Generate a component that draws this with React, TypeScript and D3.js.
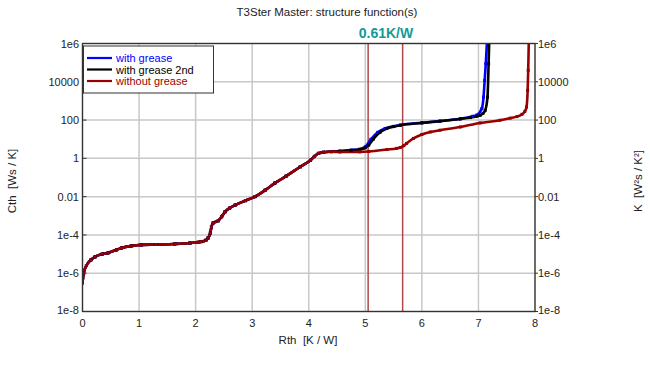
import React from "react";
import * as d3 from "d3";

const yTickValues = [1e-8, 1e-6, 1e-4, 0.01, 1, 100, 10000, 1e6];
const yTickLabels = ["1e-8", "1e-6", "1e-4", "0.01", "1", "100", "10000", "1e6"];
const xTickValues = [0, 1, 2, 3, 4, 5, 6, 7, 8];
const markerRth = [5.05, 5.66];
const markerLabel = "0.61K/W";

// shared initial part (log10 Cth)
const sharedRth = [0, 0.02, 0.07, 0.15, 0.22, 0.35, 0.45, 0.6, 0.69, 0.87, 1.04, 1.3, 1.63, 1.9, 2.1, 2.18, 2.22, 2.26, 2.28, 2.31, 2.4, 2.46, 2.52, 2.6, 2.7, 2.88, 3.05, 3.23, 3.4, 3.6, 3.85, 4.03, 4.1, 4.17, 4.26, 4.4];
const sharedLogC = [-6.5, -6.0, -5.6, -5.3, -5.15, -5.0, -4.94, -4.78, -4.68, -4.57, -4.52, -4.5, -4.47, -4.42, -4.35, -4.28, -4.16, -3.9, -3.57, -3.375, -3.26, -3.05, -2.79, -2.6, -2.44, -2.21, -2.0, -1.66, -1.29, -0.93, -0.44, -0.1, 0.1, 0.26, 0.32, 0.35];

const greaseRth = [4.55, 4.75, 4.9, 5.0, 5.1, 5.22, 5.35, 5.5, 5.62, 6.0, 6.32, 6.68, 6.9, 6.97, 7.06, 7.09, 7.11, 7.13, 7.15];
const greaseLogC = [0.38, 0.43, 0.48, 0.6, 1.0, 1.36, 1.56, 1.67, 1.74, 1.86, 1.95, 2.07, 2.2, 2.26, 2.6, 3.2, 4.07, 4.94, 6.05];

const grease2Rth = [4.55, 4.75, 4.9, 5.0, 5.06, 5.14, 5.26, 5.38, 5.5, 5.62, 6.0, 6.32, 6.68, 6.86, 6.97, 7.03, 7.08, 7.12, 7.16, 7.18, 7.19];
const grease2LogC = [0.37, 0.42, 0.46, 0.55, 0.69, 1.0, 1.36, 1.56, 1.66, 1.73, 1.85, 1.94, 2.06, 2.13, 2.2, 2.25, 2.35, 2.51, 3.2, 4.94, 6.05];

const noGreaseRth = [4.55, 4.9, 5.06, 5.38, 5.55, 5.62, 5.68, 5.73, 5.85, 6.0, 6.15, 6.32, 6.68, 7.03, 7.38, 7.56, 7.68, 7.77, 7.82, 7.85, 7.87, 7.88, 7.89];
const noGreaseLogC = [0.33, 0.34, 0.36, 0.46, 0.52, 0.57, 0.66, 0.78, 1.04, 1.25, 1.38, 1.47, 1.64, 1.85, 1.99, 2.1, 2.18, 2.3, 2.45, 2.68, 3.55, 4.6, 6.05];

const seriesNames = ["with grease", "with grease 2nd", "without grease"];
const seriesColors = ["#0000ff", "#000000", "#9a0000"];

const W = 650, H = 366;
const X0 = 82.5, X1 = 535, Y0 = 43.5, Y1 = 311.5;
const FONT = "'Liberation Sans', Arial, sans-serif";

export default function App() {
  const x = d3.scaleLinear().domain([0, 8]).range([X0, X1]);
  const y = d3.scaleLog().domain([1e-8, 1e6]).range([Y1, Y0]);

  const build = (rth: number[], logc: number[]) => {
    const pts: [number, number][] = [];
    sharedRth.forEach((r, i) => pts.push([r, Math.pow(10, sharedLogC[i])]));
    rth.forEach((r, i) => pts.push([r, Math.pow(10, logc[i])]));
    return pts;
  };
  const series = [build(greaseRth, greaseLogC), build(grease2Rth, grease2LogC), build(noGreaseRth, noGreaseLogC)];
  const line = d3
    .line<[number, number]>()
    .x((d) => x(d[0]))
    .y((d) => y(d[1]))
    .curve(d3.curveMonotoneX);

  return (
    <svg width={W} height={H} style={{ position: "absolute", left: 0, top: 0, background: "#fff" }} fontFamily={FONT}>
      <defs>
        <clipPath id="plot">
          <rect x={X0} y={Y0} width={X1 - X0} height={Y1 - Y0} />
        </clipPath>
      </defs>
      <rect x={0} y={0} width={W} height={H} fill="#fff" />
      <text x={327} y={16} fontSize={11.5} textAnchor="middle" fill="#222">T3Ster Master: structure function(s)</text>

      {/* grid */}
      {xTickValues.map((v) => (
        <line key={"gx" + v} x1={x(v)} x2={x(v)} y1={Y0} y2={Y1} stroke="#c8c8c8" strokeWidth={1.5} />
      ))}
      {yTickValues.map((v) => (
        <line key={"gy" + v} x1={X0} x2={X1} y1={y(v)} y2={y(v)} stroke="#c8c8c8" strokeWidth={1.5} />
      ))}

      {/* marker lines */}
      {markerRth.map((v) => (
        <line key={"m" + v} x1={x(v)} x2={x(v)} y1={Y0} y2={Y1} stroke="#b04848" strokeWidth={1.5} />
      ))}
      <text x={386} y={38} fontSize={14} fontWeight="bold" textAnchor="middle" fill="#139a9a">{markerLabel}</text>

      {/* curves */}
      <g clipPath="url(#plot)">
        {series.map((s, i) => (
          <path key={i} d={line(s) || ""} fill="none" stroke={seriesColors[i]} strokeWidth={2.6} strokeLinejoin="round" />
        ))}
        {series.map((s, i) =>
          s.map((d, j) => (
            <rect key={i + "-" + j} x={x(d[0]) - 1.5} y={y(d[1]) - 1.5} width={3} height={3} fill={seriesColors[i]} />
          ))
        )}
      </g>

      {/* frame */}
      <rect x={X0} y={Y0} width={X1 - X0} height={Y1 - Y0} fill="none" stroke="#333" strokeWidth={1.3} />

      {/* ticks */}
      {yTickValues.map((v, i) => (
        <g key={"ty" + v}>
          <line x1={X0} x2={X0 + 4} y1={y(v)} y2={y(v)} stroke="#333" />
          <line x1={X1} x2={X1 + 3} y1={y(v)} y2={y(v)} stroke="#333" />
          <text x={79} y={y(v) + (i === 0 ? 2 : 4)} fontSize={11} textAnchor="end" fill="#222">{yTickLabels[i]}</text>
          <text x={538} y={y(v) + (i === 0 ? 2 : 4)} fontSize={11} textAnchor="start" fill="#222">{yTickLabels[i]}</text>
        </g>
      ))}
      {xTickValues.map((v) => (
        <text key={"tx" + v} x={x(v)} y={327} fontSize={11} textAnchor="middle" fill="#222">{v}</text>
      ))}

      {/* axis labels */}
      <text x={308} y={344} fontSize={11.5} textAnchor="middle" fill="#222" style={{ whiteSpace: "pre" }}>{"Rth  [K / W]"}</text>
      <text transform="translate(16,181) rotate(-90)" fontSize={11.5} textAnchor="middle" fill="#222" style={{ whiteSpace: "pre" }}>{"Cth  [Ws / K]"}</text>
      <text transform="translate(642,181) rotate(-90)" fontSize={11.5} textAnchor="middle" fill="#222" style={{ whiteSpace: "pre" }}>{"K  [W²s / K²]"}</text>

      {/* legend */}
      <rect x={83.5} y={46} width={130} height={47} fill="#fff" stroke="#333" strokeWidth={1} />
      {seriesNames.map((n, i) => (
        <g key={n}>
          <line x1={87} x2={112} y1={58 + i * 11.5} y2={58 + i * 11.5} stroke={seriesColors[i]} strokeWidth={2.2} />
          <text x={116} y={62 + i * 11.5} fontSize={11} fill={seriesColors[i]}>{n}</text>
        </g>
      ))}
    </svg>
  );
}
